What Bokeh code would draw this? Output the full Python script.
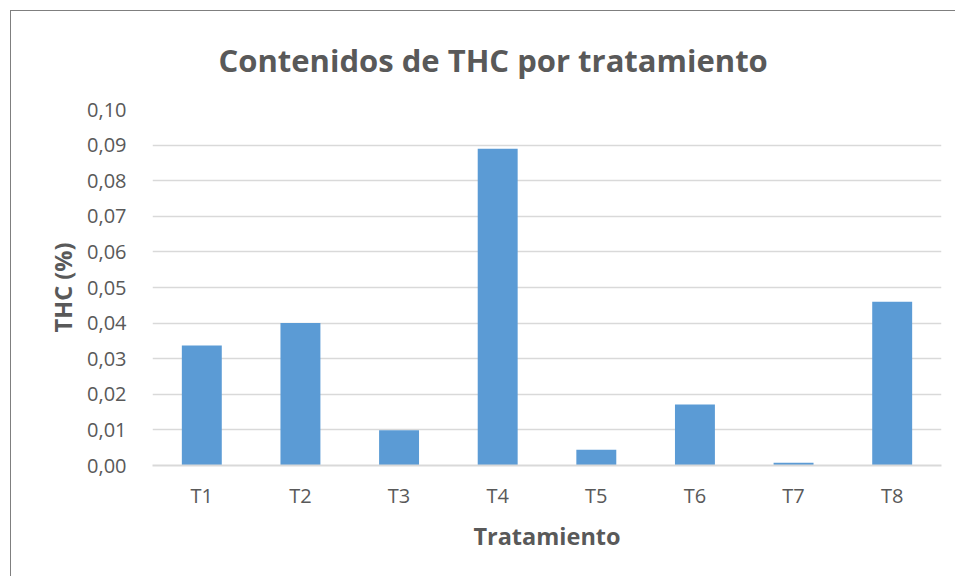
from bokeh.plotting import figure
from bokeh.models import ColumnDataSource, CustomJSTickFormatter, SingleIntervalTicker, Range1d, Title
from bokeh.embed import file_html
from bokeh.resources import INLINE

categories = ["T1", "T2", "T3", "T4", "T5", "T6", "T7", "T8"]
thc = [0.0337, 0.0400, 0.0099, 0.0890, 0.0044, 0.0171, 0.0008, 0.0460]

title_text = "Contenidos de THC por tratamiento"
x_label = "Tratamiento"
y_label = "THC (%)"

TEXT = "#595959"
FONT = "Open Sans"

src = ColumnDataSource(dict(cat=categories, val=thc))

p = figure(x_range=categories, y_range=Range1d(0, 0.10), width=945, height=566,
           output_backend="svg", toolbar_location=None, title=None,
           min_border_left=141, min_border_right=15, min_border_top=98, min_border_bottom=112)
p.styles = {"margin-left": "10px", "margin-top": "10px",
            "border-left": "1px solid #7f7f7f", "border-top": "1px solid #7f7f7f"}
p.outline_line_color = None

p.vbar(x="cat", top="val", width=0.405, source=src, fill_color="#5B9BD5", line_color=None)

p.yaxis.ticker = SingleIntervalTicker(interval=0.01)
p.yaxis.formatter = CustomJSTickFormatter(code="return tick.toFixed(2).replace('.', ',');")
p.yaxis.axis_line_color = None
p.yaxis.major_tick_line_color = None
p.yaxis.minor_tick_line_color = None
p.yaxis.major_label_standoff = 20
p.yaxis.major_label_text_font = FONT
p.yaxis.major_label_text_font_size = "20px"
p.yaxis.major_label_text_color = TEXT
p.yaxis.axis_label = y_label
p.yaxis.axis_label_text_font = FONT
p.yaxis.axis_label_text_font_size = "23.5px"
p.yaxis.axis_label_text_font_style = "bold"
p.yaxis.axis_label_text_color = TEXT
p.yaxis.axis_label_standoff = 5

p.xaxis.axis_line_color = "#d9d9d9"
p.xaxis.axis_line_width = 2
p.xaxis.major_tick_line_color = None
p.xaxis.minor_tick_line_color = None
p.xaxis.major_label_standoff = 10
p.xaxis.major_label_text_font = FONT
p.xaxis.major_label_text_font_size = "20px"
p.xaxis.major_label_text_color = TEXT
p.xaxis.axis_label = x_label
p.xaxis.axis_label_text_font = FONT
p.xaxis.axis_label_text_font_size = "23.5px"
p.xaxis.axis_label_text_font_style = "bold"
p.xaxis.axis_label_text_color = TEXT
p.xaxis.axis_label_standoff = 8

p.xgrid.grid_line_color = None
p.ygrid.grid_line_color = "#d9d9d9"
p.ygrid.grid_line_width = 1.5

t = Title(text=title_text, align="left", offset=66, standoff=53, vertical_align="top",
          text_font=FONT, text_font_size="31px", text_font_style="bold",
          text_color=TEXT)
p.add_layout(t, "above")

open("out.html", "w").write(file_html(p, INLINE))
